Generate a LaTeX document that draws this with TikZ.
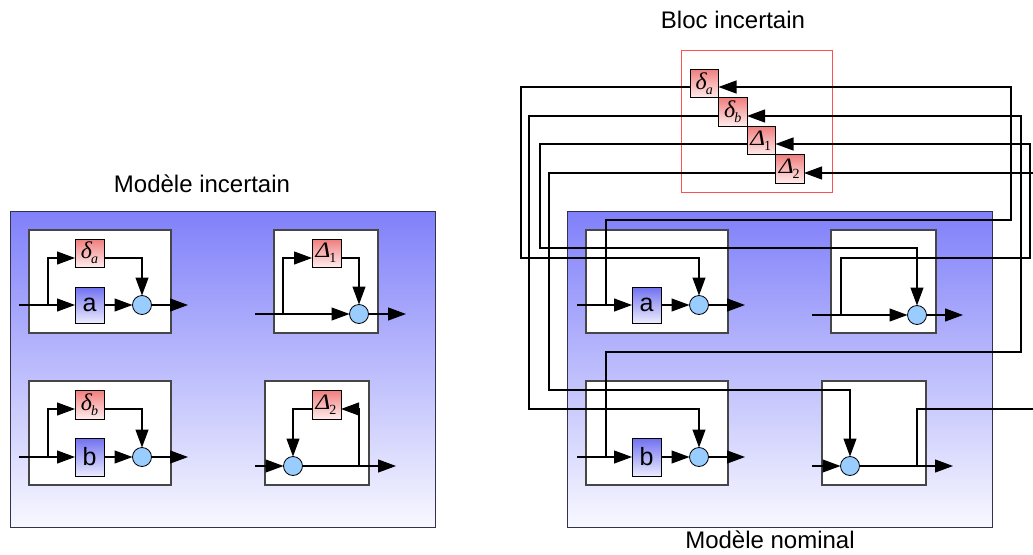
\documentclass[tikz,border=0pt]{standalone}
\usepackage{fontspec}
\setmainfont{Liberation Sans}
\newfontfamily\gfont{Liberation Serif}
\usetikzlibrary{arrows.meta}
\newcommand\mydl[1]{{\gfont\itshape\fontsize{24}{24}\selectfont δ}\kern-1pt\raisebox{-5pt}{\gfont\itshape\fontsize{14}{14}\selectfont #1}}
\newcommand\myDl[1]{\kern-1pt{\gfont\itshape\fontsize{22}{22}\selectfont \scalebox{1.15}[1]{Δ}}\kern-1pt\raisebox{-5pt}{\gfont\fontsize{14}{14}\selectfont #1}}
\definecolor{outerblue}{RGB}{128,128,250}
\definecolor{outerwhite}{RGB}{248,248,255}
\definecolor{redtop}{RGB}{240,125,125}
\definecolor{redbot}{RGB}{255,236,236}
\definecolor{bluetop}{RGB}{112,112,240}
\definecolor{bluebot}{RGB}{236,236,255}
\definecolor{sumfill}{RGB}{153,204,255}
\definecolor{blocred}{RGB}{255,80,80}
\definecolor{outerline}{RGB}{50,50,80}
\tikzset{
  wire/.style={line width=1.1pt},
  arr/.style={wire, -{Triangle[length=18pt,width=13pt]}},
  outerbox/.style={draw=outerline, line width=1pt, top color=outerblue, bottom color=outerwhite,
    anchor=north west, inner sep=0pt, outer sep=0pt, minimum width=425pt, minimum height=316pt},
  subbox/.style={draw=gray!55!black, line width=1.4pt, fill=white, anchor=north west, inner sep=0pt, outer sep=0pt},
  redbox/.style={draw=black, line width=0.8pt, top color=redtop, bottom color=redbot,
    anchor=north west, inner sep=0pt, outer sep=0pt, minimum width=29pt, minimum height=28pt},
  bluebox/.style={draw=black, line width=0.8pt, top color=bluetop, bottom color=bluebot,
    anchor=north west, inner sep=0pt, outer sep=0pt, minimum width=29pt, minimum height=36pt,
    font=\fontsize{25}{25}\selectfont},
  sumnode/.style={circle, draw=black, line width=0.8pt, fill=sumfill, minimum size=19pt, inner sep=0pt, outer sep=0pt},
  title/.style={font=\fontsize{24}{24}\selectfont, anchor=base},
  bloc/.style={draw=blocred, line width=1pt, anchor=north west, inner sep=0pt, outer sep=0pt,
    minimum width=151pt, minimum height=142pt}
}
\begin{document}
\begin{tikzpicture}[x=1pt,y=-1pt]
\useasboundingbox (0,0) rectangle (1033,554);
% ---------- titles
\node[title] (t1) at (202,192) {Modèle incertain};
\node[title] (t2) at (733,28) {Bloc incertain};
\node[title] (t3) at (770,548) {Modèle nominal};
% ---------- left model
\node[outerbox] (Lout) at (10,211) {};
\node[subbox, minimum width=142pt, minimum height=103pt] (Lb1) at (29,230) {};
\node[subbox, minimum width=104pt, minimum height=103pt] (Lb2) at (274,230) {};
\node[subbox, minimum width=142pt, minimum height=104pt] (Lb3) at (29,381) {};
\node[subbox, minimum width=104pt, minimum height=104pt] (Lb4) at (265,381) {};
\node[redbox] (Lda) at (75,239) {\mydl{a}};
\node[bluebox] (La) at (75,287) {a};
\node[sumnode] (Lc1) at (142,305) {};
\node[redbox] (LD1) at (312,239) {\myDl{1}};
\node[sumnode] (Lc2) at (359,314) {};
\node[redbox, minimum height=29pt] (Ldb) at (75,390) {\mydl{b}};
\node[bluebox, minimum height=38pt] (Lb) at (75,438) {b};
\node[sumnode] (Lc3) at (142,457) {};
\node[redbox, minimum height=29pt] (LD2) at (312,390) {\myDl{2}};
\node[sumnode] (Lc4) at (293,466) {};
\coordinate (Li1) at (19,305);
\coordinate (Lo1) at (188,305);
\coordinate (Li2) at (255,314);
\coordinate (Lo2) at (406,314);
\coordinate (Li3) at (19,457);
\coordinate (Lo3) at (188,457);
\coordinate (Li4) at (255,466);
\coordinate (Lo4) at (396,466);
% box a
\draw[arr] (Li1) -- (La.west);
\draw[arr] (48,305) |- (Lda.west |- 0,258);
\draw[arr] (Lda.east |- 0,258) -| (Lc1.north);
\draw[arr] (La.east) -- (Lc1.west);
\draw[arr] (Lc1.east) -- (Lo1);
% box Delta1
\draw[arr] (Li2) -- (Lc2.west);
\draw[arr] (283,314) |- (LD1.west |- 0,258);
\draw[arr] (LD1.east |- 0,258) -| (Lc2.north);
\draw[arr] (Lc2.east) -- (Lo2);
% box b
\draw[arr] (Li3) -- (Lb.west);
\draw[arr] (48,457) |- (Ldb.west |- 0,409);
\draw[arr] (Ldb.east |- 0,409) -| (Lc3.north);
\draw[arr] (Lb.east) -- (Lc3.west);
\draw[arr] (Lc3.east) -- (Lo3);
% box Delta2
\draw[arr] (Li4) -- (Lc4.west);
\draw[arr] (Lc4.east) -- (Lo4);
\draw[arr] (359,466) |- (LD2.east |- 0,409);
\draw[arr] (LD2.west |- 0,409) -| (Lc4.north);
% ---------- right model
\node[outerbox] (Rout) at (567,211) {};
\node[subbox, minimum width=142pt, minimum height=103pt] (Rb1) at (586,230) {};
\node[subbox, minimum width=105pt, minimum height=103pt] (Rb2) at (831,230) {};
\node[subbox, minimum width=142pt, minimum height=104pt] (Rb3) at (586,381) {};
\node[subbox, minimum width=104pt, minimum height=104pt] (Rb4) at (822,381) {};
\node[bluebox] (Ra) at (632,287) {a};
\node[sumnode] (Rc1) at (699,305) {};
\node[sumnode] (Rc2) at (917,315) {};
\node[bluebox, minimum height=38pt] (Rb) at (632,438) {b};
\node[sumnode] (Rc3) at (699,457) {};
\node[sumnode] (Rc4) at (850,466) {};
% bloc incertain
\node[bloc] (Bloc) at (681,50) {};
\node[redbox, minimum width=28.5pt, minimum height=28.5pt] (Bda) at (690,69) {\mydl{a}};
\node[redbox, minimum width=28.5pt, minimum height=28.5pt] (Bdb) at (718.5,97.5) {\mydl{b}};
\node[redbox, minimum width=28.5pt, minimum height=28.5pt] (BD1) at (747,126) {\myDl{1}};
\node[redbox, minimum width=28.5pt, minimum height=28.5pt] (BD2) at (775.5,154.5) {\myDl{2}};
\coordinate (Ri1) at (577,305);
\coordinate (Ro1) at (745,305);
\coordinate (Ri2) at (812,315);
\coordinate (Ro2) at (963,315);
\coordinate (Ri3) at (577,457);
\coordinate (Ro3) at (745,457);
\coordinate (Ri4) at (812,466);
\coordinate (Ro4) at (953,466);
\coordinate (E1) at (1045,173);
\coordinate (E2) at (1045,409);
% a branch
\draw[arr] (Ri1) -- (Ra.west);
\draw[arr] (Ra.east) -- (Rc1.west);
\draw[arr] (Rc1.east) -- (Ro1);
\draw[arr] (606,305) |- (1011,220) |- (Bda.east |- 0,87);
\draw[arr] (Bda.west |- 0,87) -| (521,258) -| (Rc1.north);
% b branch
\draw[arr] (Ri3) -- (Rb.west);
\draw[arr] (Rb.east) -- (Rc3.west);
\draw[arr] (Rc3.east) -- (Ro3);
\draw[arr] (606,457) |- (1021,352) |- (Bdb.east |- 0,116);
\draw[arr] (Bdb.west |- 0,116) -| (529,409) -| (Rc3.north);
% Delta1 branch
\draw[arr] (Ri2) -- (Rc2.west);
\draw[arr] (Rc2.east) -- (Ro2);
\draw[arr] (841,315) |- (1030,258) |- (BD1.east |- 0,144);
\draw[arr] (BD1.west |- 0,144) -| (540,248) -| (Rc2.north);
% Delta2 branch
\draw[arr] (Ri4) -- (Rc4.west);
\draw[arr] (Rc4.east) -- (Ro4);
\draw[wire] (917,466) |- (E2);
\draw[arr] (E1) -- (BD2.east |- E1);
\draw[arr] (BD2.west |- 0,173) -| (549,390) -| (Rc4.north);
\end{tikzpicture}
\end{document}
